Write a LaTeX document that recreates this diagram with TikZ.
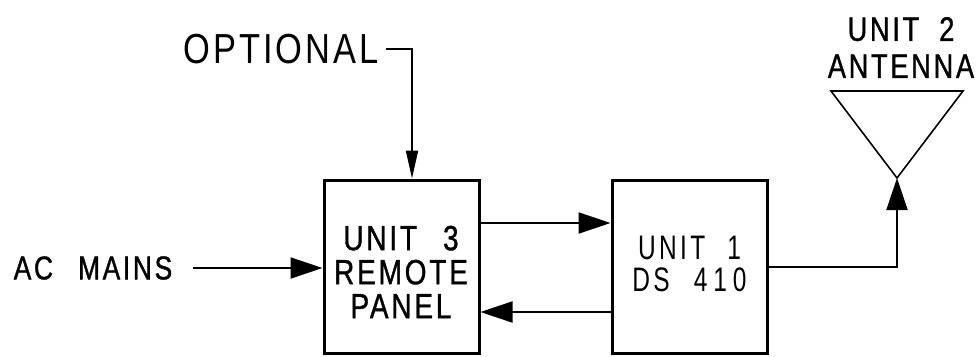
\documentclass[tikz,border=0pt]{standalone}
\usepackage{fontspec}
\setmainfont{Liberation Sans}
\newfontfamily\cad[FakeStretch=0.8,LetterSpace=8,FakeBold=1]{Liberation Sans}
\newfontfamily\cadn[FakeStretch=0.72,LetterSpace=10]{Liberation Sans}
\newfontfamily\cadopt[FakeStretch=0.82,LetterSpace=7]{Liberation Sans}
\newcommand\wgap[1]{\hspace*{#1}}
\usetikzlibrary{arrows.meta}
\begin{document}
\begin{tikzpicture}[x=1pt,y=-1pt,
  unitbox/.style={draw,line width=3pt,minimum width=155pt,minimum height=173pt,inner sep=0pt},
  lbl/.style={align=center,inner sep=0pt,font=\cad\fontsize{35}{34}\selectfont},
  conn/.style={line width=2pt},
  arr/.style={conn,-{Triangle[length=32pt,width=21pt]}},
  sarr/.style={conn,-{Triangle[length=28pt,width=12pt]}}]
\useasboundingbox (0,0) rectangle (976,356);
% boxes
\node[unitbox] (u3) at (401.5,266.5) {};
\node[unitbox] (u1) at (689.5,266.5) {};
% box texts
\node[lbl] (u3t) at (401,272) {UNIT\wgap{26pt}3\\REMOTE\\PANEL};
\node[lbl,font=\cadn\fontsize{34}{32}\selectfont] (u1t) at (689.5,263.5) {UNIT\wgap{22pt}1\\DS\wgap{24pt}4\kern6pt1\kern6pt0};
% labels
\node[lbl,font=\cad\fontsize{33}{34}\selectfont] (ac) at (93,268) {AC\wgap{25pt}MAINS};
\node[lbl,font=\cadopt\fontsize{42}{40}\selectfont] (opt) at (281,49) {OPTIONAL};
\node[lbl,font=\cad\fontsize{34}{37}\selectfont] (ant) at (901,47.5) {UNIT\wgap{20pt}2\\ANTENNA};
% antenna triangle
\coordinate (tl) at (831,91);
\coordinate (tr) at (963,91);
\coordinate (tip) at (897,178);
\draw[line width=1.6pt,line join=miter] (tl) -- (tr) -- (tip) -- cycle;
% connectors
\coordinate (acs) at (193,268);
\draw[arr] (acs) -- (acs -| u3.west);
\coordinate (optc) at (412,49);
\draw[sarr] ([xshift=7pt]opt.east |- optc) -- (optc) -- (optc |- u3.north);
\coordinate (fw) at (479,223);
\draw[arr] (u3.east |- fw) -- (u1.west |- fw);
\coordinate (bw) at (479,312);
\draw[arr] (u1.west |- bw) -- (u3.east |- bw);
\coordinate (out) at (767,267);
\draw[arr] (u1.east |- out) -| (tip);
\end{tikzpicture}
\end{document}
